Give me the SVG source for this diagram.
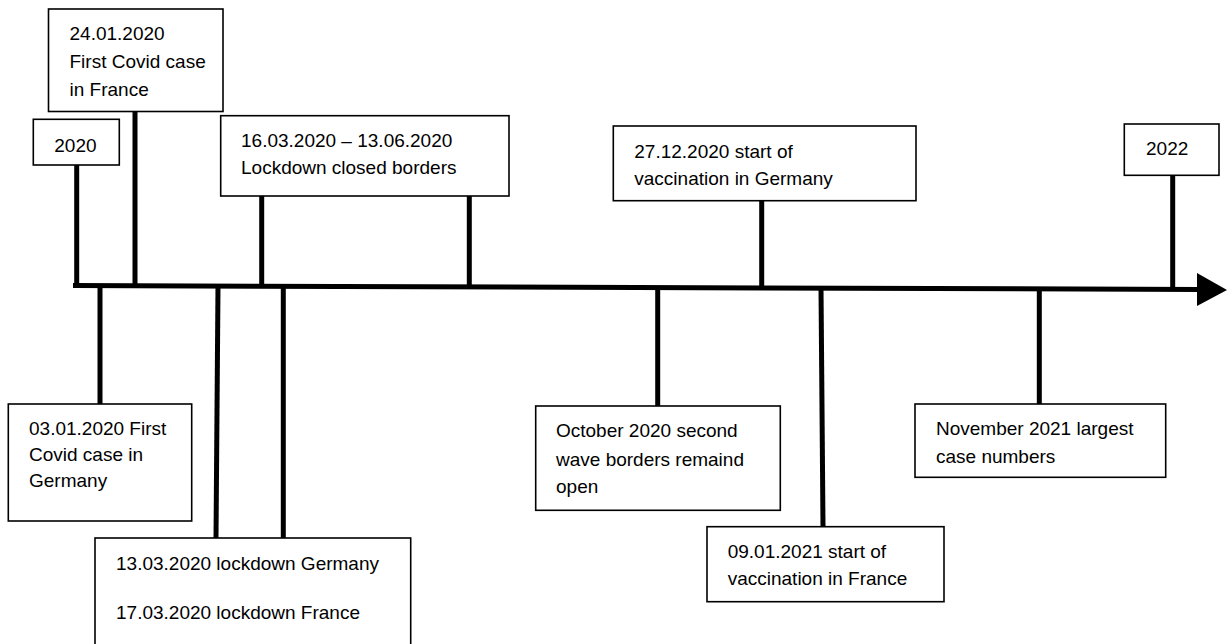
<svg xmlns="http://www.w3.org/2000/svg" width="1227" height="644" viewBox="0 0 1227 644">
<style>
.box{fill:#fff;stroke:#000;stroke-width:1.6}
.stem{stroke:#000;stroke-width:5;fill:none}
text{font-family:"Liberation Sans",Arial,sans-serif;font-size:19px;fill:#000}
</style>
<rect width="1227" height="644" fill="#fff"/>
<g id="connectors">
<line class="stem" x1="73" y1="285.5" x2="1200" y2="289.5"/>
<polygon points="1197,273 1227,290 1197,306" fill="#000"/>
<line class="stem" x1="76.7" y1="165" x2="76.7" y2="285.5"/>
<line class="stem" x1="135" y1="111.5" x2="135" y2="285.5"/>
<line class="stem" x1="261.7" y1="196" x2="261.7" y2="286.5"/>
<line class="stem" x1="469.3" y1="196" x2="469.3" y2="287.5"/>
<line class="stem" x1="761.7" y1="200.7" x2="761.7" y2="288.5"/>
<line class="stem" x1="1172.7" y1="175" x2="1172.7" y2="290"/>
<line class="stem" x1="100" y1="285.5" x2="100" y2="404"/>
<line class="stem" x1="218" y1="286" x2="216" y2="538"/>
<line class="stem" x1="283.3" y1="286" x2="283.3" y2="538"/>
<line class="stem" x1="657.7" y1="287.5" x2="657.7" y2="406"/>
<line class="stem" x1="821" y1="288" x2="823" y2="526.7"/>
<line class="stem" x1="1039.3" y1="289" x2="1039.3" y2="404"/>
</g>
<g id="n2020">
<rect class="box" x="33.3" y="119.3" width="86" height="45.7"/>
<text x="54.3" y="151.7">2020</text>
</g>
<g id="n2401">
<rect class="box" x="48.5" y="9" width="174.5" height="102.5"/>
<text x="69.5" y="40">24.01.2020</text>
<text x="69.5" y="68">First Covid case</text>
<text x="69.5" y="96">in France</text>
</g>
<g id="n1603">
<rect class="box" x="220.7" y="115.7" width="288.3" height="80.3"/>
<text x="241" y="146.7">16.03.2020 – 13.06.2020</text>
<text x="241" y="174">Lockdown closed borders</text>
</g>
<g id="n2712">
<rect class="box" x="613.3" y="126" width="302.7" height="74.7"/>
<text x="634.3" y="158.3">27.12.2020 start of</text>
<text x="634.3" y="185">vaccination in Germany</text>
</g>
<g id="n2022">
<rect class="box" x="1124.3" y="124" width="94.7" height="51.3"/>
<text x="1146" y="155">2022</text>
</g>
<g id="n0301">
<rect class="box" x="8.3" y="404" width="183.4" height="117"/>
<text x="29" y="435">03.01.2020 First</text>
<text x="29" y="461">Covid case in</text>
<text x="29" y="486.7">Germany</text>
</g>
<g id="nLockdown">
<rect class="box" x="95" y="538" width="315.7" height="130"/>
<text x="116" y="570">13.03.2020 lockdown Germany</text>
<text x="116" y="619">17.03.2020 lockdown France</text>
</g>
<g id="nOctober">
<rect class="box" x="535.7" y="406" width="244.6" height="104.3"/>
<text x="556" y="437.3">October 2020 second</text>
<text x="556" y="465.7">wave borders remaind</text>
<text x="556" y="493.3">open</text>
</g>
<g id="n0901">
<rect class="box" x="707" y="526.7" width="237" height="75"/>
<text x="727.7" y="557.7">09.01.2021 start of</text>
<text x="727.7" y="585">vaccination in France</text>
</g>
<g id="nNovember">
<rect class="box" x="915" y="404" width="250.7" height="73.3"/>
<text x="936" y="435">November 2021 largest</text>
<text x="936" y="462.7">case numbers</text>
</g>
</svg>
